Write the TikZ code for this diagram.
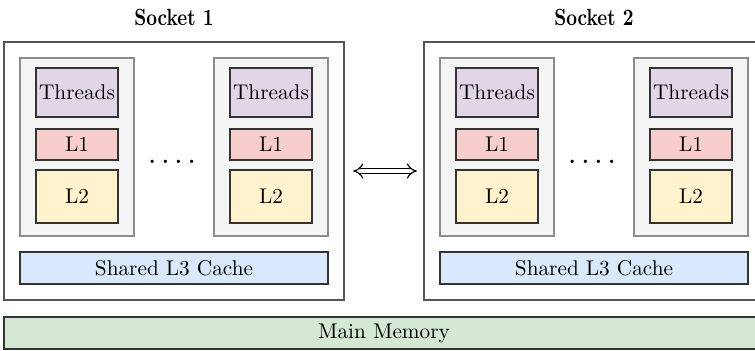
\documentclass[tikz,border=0pt]{standalone}
\usetikzlibrary{fit,arrows.meta}
\definecolor{coreFill}{HTML}{F4F4F4}
\definecolor{coreLine}{HTML}{8C8C8C}
\definecolor{thrFill}{HTML}{E1D5E7}
\definecolor{lOneFill}{HTML}{F8CECC}
\definecolor{lTwoFill}{HTML}{FFF2CC}
\definecolor{lThreeFill}{HTML}{DAE8FC}
\definecolor{memFill}{HTML}{D5E8D4}
\definecolor{boxLine}{HTML}{333333}
\definecolor{sockLine}{HTML}{555555}
\tikzset{
  sockbox/.style={draw=sockLine, line width=0.65pt, inner sep=0pt},
  corebox/.style={draw=coreLine, fill=coreFill, line width=0.5pt, inner sep=0pt},
  cachebox/.style={draw=boxLine, fill=#1, line width=0.55pt, inner sep=0pt},
  txt/.style={label={[inner sep=0pt]center:#1}},
  lbl/.style={inner sep=0pt, anchor=base},
}
\begin{document}
\begin{tikzpicture}[x=0.47pt, y=-0.47pt]
\useasboundingbox (0,0) rectangle (755,350);
\foreach \s/\dx in {1/0, 2/420} {
  \node[sockbox, fit={(4+\dx,42) (344+\dx,300)}] (s\s) {};
  \node[lbl] (lab\s) at (174+\dx,25) {\scalebox{0.88}[1.1]{\bfseries Socket \s}};
  \foreach \c/\cx in {1/0, 2/194} {
    \node[corebox, fit={(20+\dx+\cx,58) (134+\dx+\cx,236)}] (core\s\c) {};
    \node[cachebox=thrFill, txt=Threads, fit={(36+\dx+\cx,68) (118+\dx+\cx,117)}] (thr\s\c) {};
    \node[cachebox=lOneFill, txt=L1, fit={(36+\dx+\cx,129) (118+\dx+\cx,160)}] (lone\s\c) {};
    \node[cachebox=lTwoFill, txt=L2, fit={(36+\dx+\cx,170) (118+\dx+\cx,223)}] (ltwo\s\c) {};
  }
  \node[lbl] (dots\s) at (172+\dx,163) {\bfseries .\kern3pt.\kern3pt.\kern3pt.};
  \node[cachebox=lThreeFill, txt={Shared L3 Cache}, fit={(20+\dx,252) (328+\dx,284)}] (lthree\s) {};
}
\node[cachebox=memFill, txt={Main Memory}, fit={(4,317) (764,349)}] (mem) {};
\draw[double=white, double distance=1.9pt, line width=0.55pt, {Implies[scale=1.3]}-{Implies[scale=1.3]}, shorten <=4pt, shorten >=3pt] (s1.east) -- (s2.west);
\end{tikzpicture}
\end{document}
